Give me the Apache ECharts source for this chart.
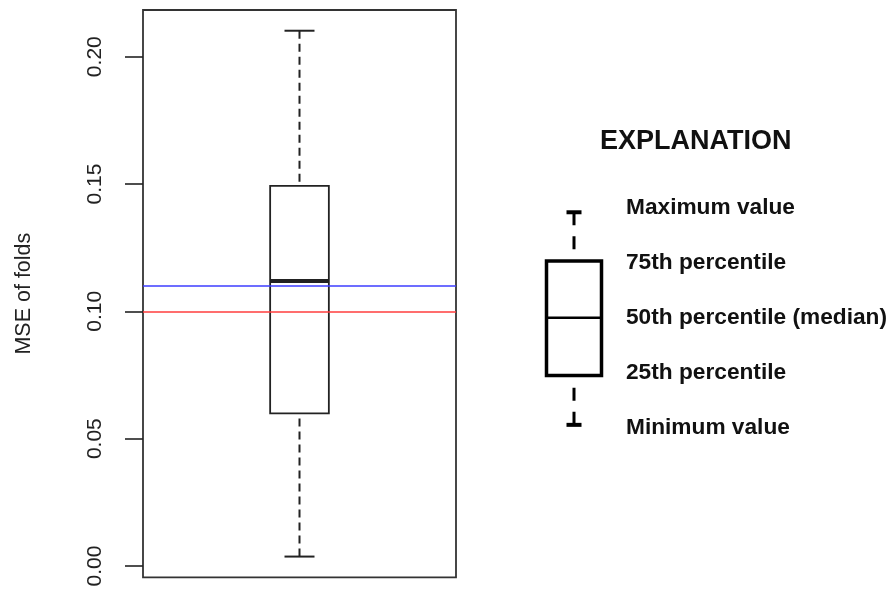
<!DOCTYPE html>
<html>
<head>
<meta charset="utf-8">
<script src="https://cdn.jsdelivr.net/npm/echarts@6/dist/echarts.min.js"></script>
<style>
  html, body { margin: 0; padding: 0; background: #fff; }
  #main { width: 893px; height: 592px; }
</style>
</head>
<body>
<div id="main"></div>
<script>
// boxplot stats of MSE across folds: min, q1, median, q3, max
var foldStats = [0.0037, 0.0599, 0.1119, 0.1493, 0.2102];
var yTicks = [0, 0.05, 0.10, 0.15, 0.20];
// horizontal reference lines
var refValues = [0.110, 0.100];
var refColors = ['rgba(60,60,255,0.75)', 'rgba(255,60,60,0.75)'];

// explanation box (schematic values)
var legendStats = [-1.87, -1.01, 0, 0.99, 1.84];
var legendLabels = ['Maximum value', '75th percentile', '50th percentile (median)', '25th percentile', 'Minimum value'];

var fontFamily = '"Liberation Sans", Arial, sans-serif';

function boxRenderer(opt) {
  return function(params, api) {
    var x = api.value(0);
    var lo = api.coord([x, api.value(1)]);
    var q1 = api.coord([x, api.value(2)]);
    var md = api.coord([x, api.value(3)]);
    var q3 = api.coord([x, api.value(4)]);
    var hi = api.coord([x, api.value(5)]);
    var cx = lo[0];
    var hw = opt.boxWidth / 2;
    var cw = opt.capWidth / 2;
    var col = opt.color;
    return {
      type: 'group',
      children: [
        { type: 'line', shape: { x1: cx, y1: hi[1], x2: cx, y2: q3[1] },
          style: { stroke: col, lineWidth: opt.lineWidth, lineDash: opt.dash } },
        { type: 'line', shape: { x1: cx, y1: lo[1], x2: cx, y2: q1[1] },
          style: { stroke: col, lineWidth: opt.lineWidth, lineDash: opt.dash } },
        { type: 'line', shape: { x1: cx - cw, y1: hi[1], x2: cx + cw, y2: hi[1] },
          style: { stroke: col, lineWidth: opt.capLineWidth } },
        { type: 'line', shape: { x1: cx - cw, y1: lo[1], x2: cx + cw, y2: lo[1] },
          style: { stroke: col, lineWidth: opt.capLineWidth } },
        { type: 'rect', shape: { x: cx - hw, y: q3[1], width: hw * 2, height: q1[1] - q3[1] },
          style: { fill: 'none', stroke: col, lineWidth: opt.boxLineWidth } },
        { type: 'line', shape: { x1: cx - hw, y1: md[1], x2: cx + hw, y2: md[1] },
          style: { stroke: col, lineWidth: opt.medianWidth } }
      ]
    };
  };
}

var graphics = [{
  type: 'text', left: 600, top: 128,
  style: { text: 'EXPLANATION', font: 'bold 27px ' + fontFamily, fill: '#111' }
}];
for (var i = 0; i < legendLabels.length; i++) {
  graphics.push({
    type: 'text', left: 626, top: 206.5 + i * 55.1 - 10.5,
    style: { text: legendLabels[i], font: 'bold 22.7px ' + fontFamily, fill: '#111' }
  });
}

var myChart = echarts.init(document.getElementById('main'));
var option = {
  animation: false,
  textStyle: { fontFamily: fontFamily },
  grid: [
    { left: 143, right: 437, top: 10, bottom: 14.7, show: true, borderColor: '#333', borderWidth: 1.8 },
    { left: 546, width: 56, top: 203.1, height: 229.2 }
  ],
  xAxis: [
    { gridIndex: 0, type: 'category', data: [''], axisLine: { show: false }, axisTick: { show: false }, axisLabel: { show: false } },
    { gridIndex: 1, type: 'category', data: [''], show: false }
  ],
  yAxis: [{
    gridIndex: 0,
    type: 'value',
    min: -0.00444,
    max: 0.21834,
    splitLine: { show: false },
    axisLine: { show: false },
    axisTick: { show: true, length: 18, customValues: yTicks, lineStyle: { color: '#222', width: 1.6 } },
    axisLabel: {
      customValues: yTicks, rotate: 90, margin: 37, fontSize: 21, color: '#222',
      formatter: function(v) { return v.toFixed(2); }
    },
    name: 'MSE of folds',
    nameLocation: 'middle',
    nameGap: 108,
    nameTextStyle: { fontSize: 21.5, color: '#222' }
  }, {
    gridIndex: 1, type: 'value', min: -2, max: 2, show: false
  }],
  graphic: graphics,
  series: [{
    type: 'custom',
    xAxisIndex: 0, yAxisIndex: 0,
    renderItem: boxRenderer({ boxWidth: 58.7, capWidth: 30, color: '#222', lineWidth: 2, capLineWidth: 2, boxLineWidth: 1.8, medianWidth: 4, dash: [8, 5] }),
    data: [[0].concat(foldStats)],
    z: 2
  }, {
    type: 'line',
    xAxisIndex: 0, yAxisIndex: 0,
    data: [],
    silent: true,
    markLine: {
      silent: true,
      symbol: 'none',
      label: { show: false },
      data: refValues.map(function(v, k) {
        return { yAxis: v, lineStyle: { color: refColors[k], width: 2, type: 'solid' } };
      })
    },
    z: 3
  }, {
    type: 'custom',
    xAxisIndex: 1, yAxisIndex: 1,
    renderItem: boxRenderer({ boxWidth: 55, capWidth: 15, color: '#000', lineWidth: 3, capLineWidth: 4, boxLineWidth: 3.5, medianWidth: 2.5, dash: [13, 11] }),
    data: [[0].concat(legendStats)]
  }]
};
myChart.setOption(option);
</script>
</body>
</html>
